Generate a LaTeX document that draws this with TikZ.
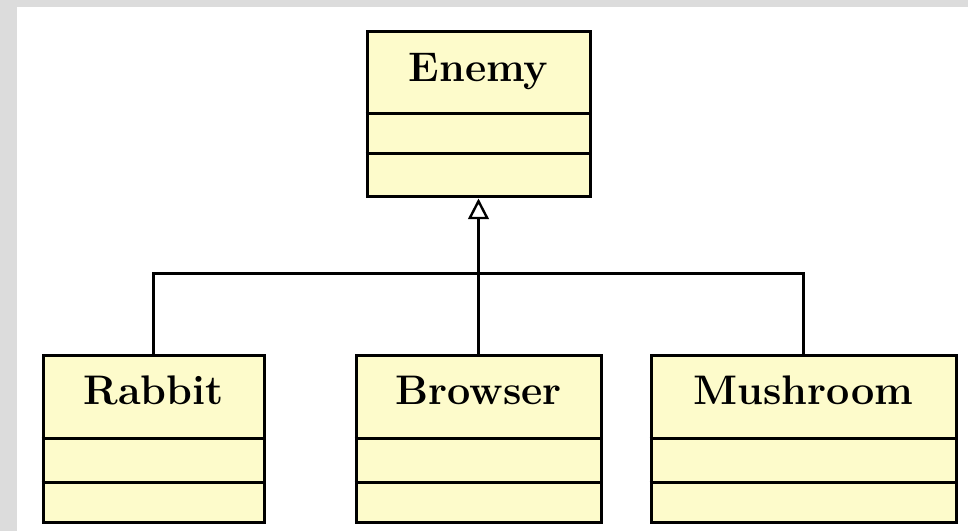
\documentclass[tikz,border=0pt]{standalone}
\usetikzlibrary{arrows.meta,fit}
\definecolor{classfill}{HTML}{FDFBCB}
\definecolor{framegray}{HTML}{DCDCDC}
\begin{document}
\begin{tikzpicture}[x=0.75pt,y=-0.75pt,
  classbox/.style={draw=black,fill=classfill,line width=2.25pt,inner sep=0pt},
  divider/.style={draw=black,line width=2.25pt},
  classname/.style={anchor=base,inner sep=0pt,font=\fontsize{31}{37}\selectfont\bfseries},
  link/.style={draw=black,line width=2.25pt},
  inherit/.style={link,-{Triangle[open,width=15.5pt,length=15.5pt,line width=1.8pt]}}]
% page frame
\useasboundingbox (0,0) rectangle (968,531);
\fill[framegray] (0,0) rectangle (968,531);
\fill[white] (17,7) rectangle (968,531);

% class boxes
\node[classbox,fit={(367,32)(590,197)}] (enemy) {};
\node[classbox,fit={(43,355)(264,522)}] (rabbit) {};
\node[classbox,fit={(356,355)(601,522)}] (browser) {};
\node[classbox,fit={(651,355)(956,522)}] (mushroom) {};

% compartment dividers
\foreach \c/\a/\b in {enemy/114/154, rabbit/438/482, browser/438/482, mushroom/438/482}{
  \draw[divider] (\c.west |- 0,\a) -- (\c.east |- 0,\a);
  \draw[divider] (\c.west |- 0,\b) -- (\c.east |- 0,\b);
}

% class names
\node[classname] (enemyname) at (enemy.north |- 0,82) {Enemy};
\node[classname] (rabbitname) at (rabbit.north |- 0,404) {Rabbit};
\node[classname] (browsername) at (browser.north |- 0,404) {Browser};
\node[classname] (mushroomname) at (mushroom.north |- 0,404) {Mushroom};

% generalization
\coordinate (bus) at (478.5,274);
\draw[inherit] (browser.north) -- (enemy.south);
\draw[link] (rabbit.north) -- (rabbit.north |- bus) -- (mushroom.north |- bus) -- (mushroom.north);
\end{tikzpicture}
\end{document}
